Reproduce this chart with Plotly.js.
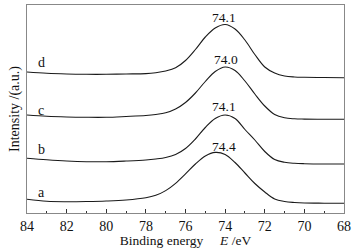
<!DOCTYPE html>
<html>
<head>
<meta charset="utf-8">
<script src="https://cdn.plot.ly/plotly-3.0.1.min.js"></script>
<style>html,body{margin:0;padding:0;background:#fff;}#chart{width:352px;height:248px;}</style>
</head>
<body>
<div id="chart"></div>
<script>
// Binding energy (eV)
var energy = [84,83,82,81,80,79,78,77.5,77,76.5,76,75.5,75,74.5,74,73.5,73,72.5,72,71.5,71,70.5,70,69,68];
// Intensities (a.u., offset curves)
var curveA = [13.7,11.7,11.3,11.5,12,13,15.2,17.7,22.4,29.7,39.1,49,57,60.6,58.6,50.5,40,29.5,21,14,11.5,10.5,10,9.8,9.7];
var curveB = [54.7,53.2,52,51.3,51.3,52,53,54,55.5,58.5,64.5,74,85.5,94.5,98,94.5,83.5,73,61.5,53.5,50.7,49.7,49.3,49,49];
var curveC = [98,96.7,96,95.7,95.7,96.5,97.5,98.5,100.2,104,110.5,120,131.5,141.5,146,142.5,132,119,107,98.5,95.2,94.2,93.9,93.7,93.7];
var curveD = [141,139.7,139,138.7,138.7,139,139.4,140.3,142,145.2,152.5,163.5,176,185,188.5,184,173,158.5,146,140,137,136,135.7,135.5,135.3];
var seriesNames = ["a","b","c","d"];
// curve label positions (energy, intensity)
var nameLabelE = [83.27,83.27,83.3,83.27];
var nameLabelI = [20.3,63.7,103,150.3];
// peak labels
var peakLabels = ["74.4","74.1","74.0","74.1"];
var peakLabelE = [74.08,74.06,73.95,74.06];
var peakLabelI = [67,107,153.7,195.7];
var xTicks = [84,82,80,78,76,74,72,70,68];

var serif = "Liberation Serif, Times New Roman, serif";
var all = [curveA, curveB, curveC, curveD];
var traces = all.map(function(v, i){
  return {x: energy, y: v, type: "scatter", mode: "lines", name: seriesNames[i],
    line: {color: "#1a1a1a", width: 1.1, shape: "spline", smoothing: 1}, hoverinfo: "skip"};
});
var ann = [];
for (var i = 0; i < 4; i++) {
  ann.push({x: nameLabelE[i], y: nameLabelI[i], text: seriesNames[i], showarrow: false,
    xref: "x", yref: "y", font: {family: serif, size: 14, color: "#111"}});
  ann.push({x: peakLabelE[i], y: peakLabelI[i], text: peakLabels[i], showarrow: false,
    xref: "x", yref: "y", font: {family: serif, size: 13.5, color: "#111"}});
}
var layout = {
  width: 352, height: 248,
  margin: {l: 27, r: 8, t: 5, b: 35, pad: 0},
  paper_bgcolor: "#fff", plot_bgcolor: "#fff",
  showlegend: false,
  font: {family: serif, size: 14, color: "#111"},
  xaxis: {
    range: [84, 68], tickvals: xTicks, ticktext: xTicks.map(String),
    ticks: "inside", ticklen: 4, tickcolor: "#333", tickwidth: 1,
    minor: {dtick: 1, ticks: "inside", ticklen: 2.5, tickcolor: "#333", tickwidth: 1},
    showgrid: false, zeroline: false, showline: true, linecolor: "#888", linewidth: 1, mirror: true,
    tickfont: {family: serif, size: 14, color: "#111"},
    title: {text: "Binding energy&nbsp;&nbsp;&nbsp;&nbsp;&nbsp;<i>E</i> /eV", font: {family: serif, size: 13.5, color: "#111"}, standoff: 3}
  },
  yaxis: {
    range: [0, 208], showticklabels: false, ticks: "", showgrid: false, zeroline: false,
    showline: true, linecolor: "#888", linewidth: 1, mirror: true,
    title: {text: "Intensity /(a.u.)", font: {family: serif, size: 14, color: "#111"}, standoff: 3}
  },
  annotations: ann
};
Plotly.newPlot("chart", traces, layout, {staticPlot: true, displayModeBar: false});
</script>
</body>
</html>
